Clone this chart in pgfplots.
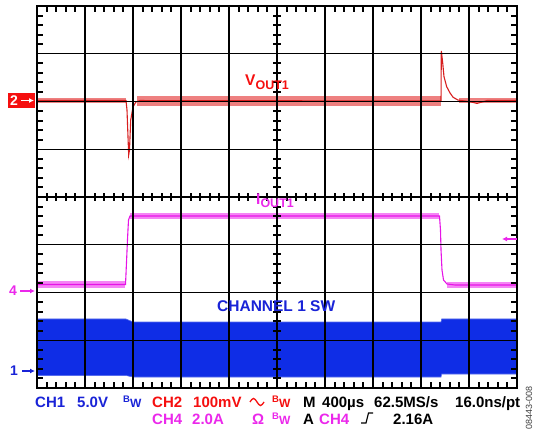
\documentclass[border=0pt]{standalone}
\usepackage{pgfplots}
\pgfplotsset{compat=1.18}
\usetikzlibrary{arrows.meta}
\usepackage{fontspec}
\setmainfont{Liberation Sans}
\definecolor{tred}{RGB}{215,30,30}
\definecolor{tredl}{RGB}{232,85,85}
\definecolor{tmag}{RGB}{230,20,230}
\definecolor{tmagl}{RGB}{243,110,243}
\definecolor{tblue}{RGB}{15,45,230}
\definecolor{txtblue}{RGB}{25,35,215}
\definecolor{txtred}{RGB}{245,15,15}
\definecolor{txtmag}{RGB}{235,40,235}
\newcommand{\bw}[1]{{\color{#1}\raisebox{4.5pt}{\fontsize{9.5}{10}\selectfont\bfseries B}\fontsize{12}{12}\selectfont\bfseries W}}
\begin{document}
\begin{tikzpicture}[x=1pt,y=1pt]
\useasboundingbox (0,0) rectangle (538,433);
\begin{axis}[at={(37pt,45pt)}, anchor=south west, scale only axis,
  width=480pt, height=382pt,
  xmin=0, xmax=10, ymin=-4, ymax=4,
  xtick={0,...,10}, ytick={-4,...,4},
  xticklabels={}, yticklabels={},
  grid=major, major grid style={black, line width=1.3pt},
  minor tick num=0, major tick length=0pt,
  axis line style={black, line width=2pt},
  axis on top, clip=true]
% CH1 switching node band
\addplot[fill=tblue, draw=tblue!70!white, line width=0.6pt] coordinates {
 (0,-2.555) (1.854,-2.555) (2.0,-2.618) (8.417,-2.618) (8.43,-2.555) (10,-2.555)
 (10,-3.707) (8.43,-3.707) (8.417,-3.770) (2.0,-3.770) (1.854,-3.738) (0,-3.738)} -- cycle;
% VOUT1 noise bands
\addplot[fill=tredl, fill opacity=0.75, draw=none] coordinates {(0,2.07) (1.85,2.07) (1.85,1.965) (0,1.965)} -- cycle;
\addplot[fill=tredl, fill opacity=0.75, draw=none] coordinates {(2.08,2.11) (8.41,2.11) (8.41,1.91) (2.08,1.91)} -- cycle;
\addplot[fill=tredl, fill opacity=0.75, draw=none] coordinates {(8.8,2.07) (10,2.07) (10,1.97) (8.8,1.97)} -- cycle;
% VOUT1 trace
\addplot[tred, line width=1.1pt] coordinates {
 (0,2.02) (1.854,2.02) (1.875,1.82) (1.91,0.88) (1.927,0.98) (1.952,1.61) (2.0,1.885)
 (2.06,1.99) (2.146,2.02) (8.417,2.01) (8.423,3.06) (8.452,2.81) (8.479,2.52) (8.535,2.31)
 (8.604,2.18) (8.667,2.09) (8.771,2.03) (8.917,2.01) (9.05,1.99) (9.167,1.96) (9.27,1.99)
 (9.375,2.02) (10,2.02)};
% IOUT1 noise bands
\addplot[fill=tmagl, fill opacity=0.85, draw=none] coordinates {(0,-1.76) (1.84,-1.76) (1.84,-1.90) (0,-1.90)} -- cycle;
\addplot[fill=tmagl, fill opacity=0.85, draw=none] coordinates {(1.94,-0.33) (8.38,-0.33) (8.38,-0.47) (1.94,-0.47)} -- cycle;
\addplot[fill=tmagl, fill opacity=0.85, draw=none] coordinates {(8.55,-1.77) (10,-1.77) (10,-1.91) (8.55,-1.91)} -- cycle;
% IOUT1 trace
\addplot[tmag, line width=1.1pt] coordinates {
 (0,-1.833) (1.844,-1.833) (1.865,-1.361) (1.885,-0.901) (1.906,-0.482) (1.9375,-0.398)
 (8.385,-0.398) (8.406,-0.691) (8.417,-1.11) (8.4375,-1.529) (8.469,-1.738) (8.542,-1.822)
 (8.708,-1.843) (10,-1.843)};
\end{axis}
% minor ticks: centre cross and borders (explicit list)
\begin{scope}[black, line width=2pt]
\foreach \x in {46.6,56.2,65.8,75.4,94.6,104.2,113.8,123.4,142.6,152.2,161.8,171.4,190.6,200.2,209.8,219.4,238.6,248.2,257.8,267.4,286.6,296.2,305.8,315.4,334.6,344.2,353.8,363.4,382.6,392.2,401.8,411.4,430.6,440.2,449.8,459.4,478.6,488.2,497.8,507.4} {
  \draw (\x pt,232pt) -- (\x pt,240pt);
  \draw (\x pt,427pt) -- (\x pt,421pt);
  \draw (\x pt,45pt) -- (\x pt,51pt);
}
\foreach \y in {54.55,64.1,73.65,83.2,102.3,111.85,121.4,130.95,150.05,159.6,169.15,178.7,197.8,207.35,216.9,226.45,245.55,255.1,264.65,274.2,293.3,302.85,312.4,321.95,341.05,350.6,360.15,369.7,388.8,398.35,407.9,417.45} {
  \draw (273pt,\y pt) -- (281pt,\y pt);
  \draw (37pt,\y pt) -- (43pt,\y pt);
  \draw (517pt,\y pt) -- (511pt,\y pt);
}
\end{scope}
% channel markers
\fill[txtred] (8pt,325pt) rectangle (35pt,340pt);
\node[anchor=base west, white, font=\fontsize{14}{14}\selectfont\bfseries, inner sep=0pt] at (10pt,327.5pt) {2};
\draw[white, line width=1.3pt, -{Latex[length=5pt,width=5pt]}] (21pt,332.5pt) -- (34pt,332.5pt);
\node[anchor=base west, txtmag, font=\fontsize{14}{14}\selectfont\bfseries, inner sep=0pt] at (9pt,137pt) {4};
\draw[txtmag, line width=1.3pt, -{Latex[length=5pt,width=5pt]}] (20pt,142pt) -- (35pt,142pt);
\node[anchor=base west, txtblue, font=\fontsize{14}{14}\selectfont\bfseries, inner sep=0pt] at (10pt,57pt) {1};
\draw[txtblue, line width=1.3pt, -{Latex[length=5pt,width=5pt]}] (22pt,62pt) -- (35pt,62pt);
\draw[txtmag, line width=1.3pt, -{Latex[length=5pt,width=5pt]}] (517pt,194pt) -- (502pt,194pt);
% trace labels
\node[anchor=base west, inner sep=0pt, txtred] at (245pt,347pt) {\fontsize{15.5}{16}\selectfont\bfseries V\fontsize{12.5}{13}\selectfont\raisebox{-4pt}{OUT1}};
\node[anchor=base west, inner sep=0pt, txtmag] at (256pt,228pt) {\fontsize{15.5}{16}\selectfont\bfseries I\fontsize{12.5}{13}\selectfont\raisebox{-3pt}{OUT1}};
\node[anchor=base west, inner sep=0pt, txtblue, font=\fontsize{15.5}{16}\selectfont\bfseries] at (217pt,121pt) {CHANNEL 1 SW};
% bottom status lines
\begin{scope}[every node/.style={anchor=base west, inner sep=0pt, font=\fontsize{15}{15}\selectfont\bfseries}]
\node[txtblue] at (35pt,25.5pt) {CH1};
\node[txtblue] at (77pt,25.5pt) {5.0V};
\node at (123pt,25.5pt) {\bw{txtblue}};
\node[txtred] at (152pt,25.5pt) {CH2};
\node[txtred] at (193pt,25.5pt) {100mV};
\node at (272pt,25.5pt) {\bw{txtred}};
\node at (303pt,25.5pt) {M};
\node at (322pt,25.5pt) {400µs};
\node at (374pt,25.5pt) {62.5MS/s};
\node at (455pt,25.5pt) {16.0ns/pt};
\node[txtmag] at (152pt,8.5pt) {CH4};
\node[txtmag] at (192pt,8.5pt) {2.0A};
\node[txtmag] at (252pt,8.5pt) {Ω};
\node at (272pt,8.5pt) {\bw{txtmag}};
\node at (303pt,8.5pt) {A};
\node[txtmag] at (319pt,8.5pt) {CH4};
\node at (393pt,8.5pt) {2.16A};
\end{scope}
\draw[txtred, line width=1.3pt] (250pt,31pt) sin (253.5pt,34.5pt) cos (257pt,31pt) sin (260.5pt,27.5pt) cos (264pt,31pt);
\draw[black, line width=1.2pt] (361pt,10pt) -- (366pt,10pt) -- (368.5pt,20pt) -- (373pt,20pt);
\node[rotate=90, anchor=center, inner sep=0pt, text=black!75, font=\fontsize{9}{9}\selectfont] at (529pt,25pt) {08443-008};
\end{tikzpicture}
\end{document}
